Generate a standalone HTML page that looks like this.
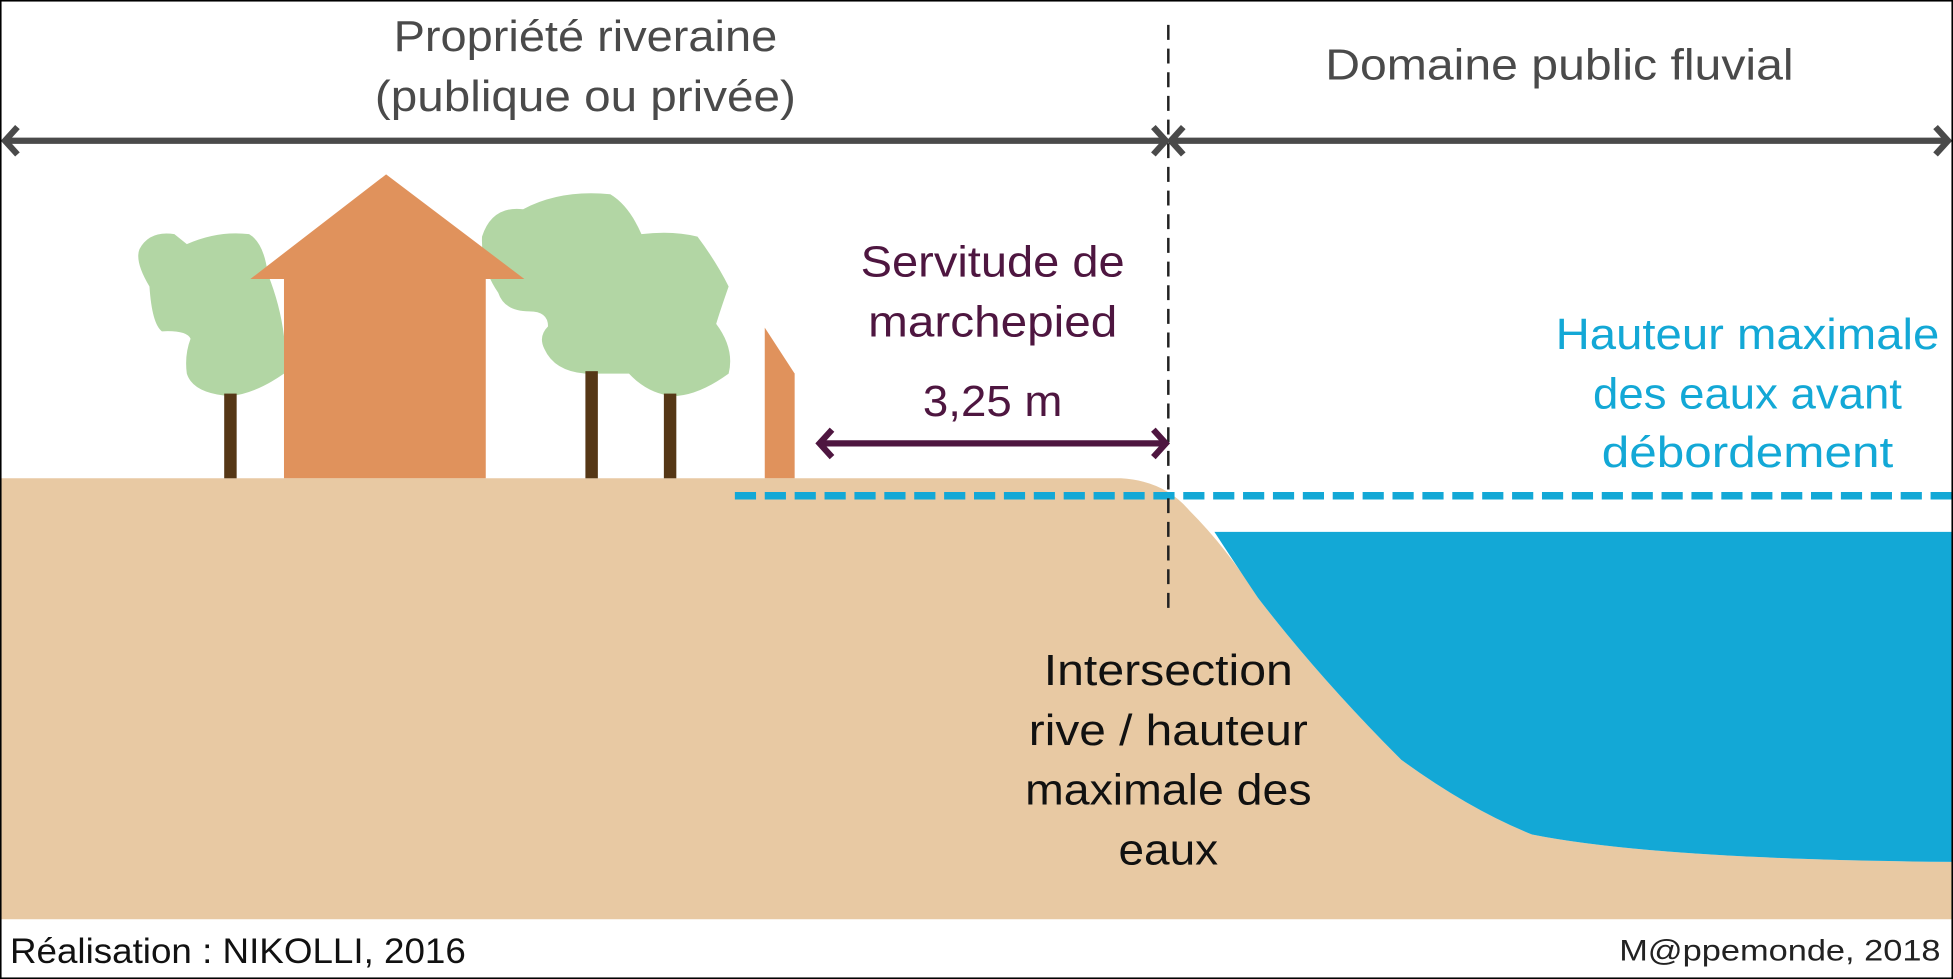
<!DOCTYPE html>
<html><head><meta charset="utf-8"><style>html,body{margin:0;padding:0;background:#fff}svg{display:block}</style></head>
<body>
<svg width="1953" height="979" viewBox="0 0 1568 786" preserveAspectRatio="none" xmlns="http://www.w3.org/2000/svg" font-family="Liberation Sans, sans-serif">
<rect x="0" y="0" width="1568" height="786" fill="#fff"/>
<!-- ground -->
<path d="M0 384 L900 384 Q935 386 955 410 Q985 440 1010 480 Q1060 545 1125 610 Q1180 650 1230 670 Q1330 690 1568 692 L1568 738 L0 738 Z" fill="#e8c9a3"/>
<!-- water -->
<path d="M975 427 L1568 427 L1568 692 Q1330 690 1230 670 Q1180 650 1125 610 Q1060 545 1010 480 Q990 450 975 427 Z" fill="#13a8d6"/>
<!-- cyan dashed -->
<line x1="590" y1="398" x2="1568" y2="398" stroke="#13a8d6" stroke-width="6" stroke-dasharray="17,7"/>
<!-- trees -->
<g fill="#b2d6a4">
<path d="M150 196 Q175 185 200 188 Q212 195 215 220 Q225 245 228 270 L228 300 Q205 316 185 318 Q155 316 150 300 Q148 285 153 272 Q150 265 130 266 Q122 260 120 230 Q108 210 112 200 Q120 185 140 188 Z"/>
<path d="M420 168 Q450 152 490 156 Q505 165 515 188 Q540 185 560 190 Q575 210 585 230 Q578 250 575 260 Q590 280 585 300 Q560 318 540 318 Q520 316 505 300 Q490 300 470 300 Q445 298 437 280 Q432 270 440 262 Q440 250 425 250 Q405 250 400 235 Q386 215 387 190 Q395 165 420 168 Z"/>
</g>
<g fill="#553716">
<rect x="180" y="316" width="10" height="68"/>
<rect x="470" y="298" width="10" height="86"/>
<rect x="533" y="316" width="10" height="68"/>
</g>
<!-- house -->
<path d="M310 140 L421 224 L390 224 L390 384 L228 384 L228 224 L201 224 Z" fill="#e0925c"/>
<path d="M614 263 L638 300 L638 384 L614 384 Z" fill="#e0925c"/>
<!-- top arrows -->
<g stroke="#4a4a4a" stroke-width="5" fill="none">
<line x1="4" y1="113" x2="934" y2="113"/>
<line x1="942" y1="113" x2="1564" y2="113"/>
<path d="M14 102 L4 113 L14 124"/>
<path d="M926 102 L936 113 L926 124"/>
<path d="M950 102 L940 113 L950 124"/>
<path d="M1554 102 L1564 113 L1554 124"/>
</g>
<!-- vertical dashed -->
<line x1="938" y1="20" x2="938" y2="492" stroke="#222" stroke-width="2" stroke-dasharray="12,7"/>
<!-- marchepied arrow -->
<g stroke="#4e1640" stroke-width="5" fill="none">
<line x1="660" y1="356" x2="934" y2="356"/>
<path d="M668 345 L658 356 L668 367"/>
<path d="M926 345 L936 356 L926 367"/>
</g>
<!-- texts -->
<g font-size="35" fill="#4a4a4a" text-anchor="middle">
<text x="470" y="41" textLength="308" lengthAdjust="spacingAndGlyphs">Propriété riveraine</text>
<text x="470" y="89" textLength="338" lengthAdjust="spacingAndGlyphs">(publique ou privée)</text>
<text x="1252" y="64" textLength="376" lengthAdjust="spacingAndGlyphs">Domaine public fluvial</text>
</g>
<g font-size="35" fill="#4e1640" text-anchor="middle">
<text x="797" y="222" textLength="212" lengthAdjust="spacingAndGlyphs">Servitude de</text>
<text x="797" y="270" textLength="200" lengthAdjust="spacingAndGlyphs">marchepied</text>
<text x="797" y="334" textLength="112" lengthAdjust="spacingAndGlyphs">3,25 m</text>
</g>
<g font-size="35" fill="#13a8d6" text-anchor="middle">
<text x="1403" y="280" textLength="308" lengthAdjust="spacingAndGlyphs">Hauteur maximale</text>
<text x="1403" y="328" textLength="248" lengthAdjust="spacingAndGlyphs">des eaux avant</text>
<text x="1403" y="375" textLength="234" lengthAdjust="spacingAndGlyphs">débordement</text>
</g>
<g font-size="35" fill="#111" text-anchor="middle">
<text x="938" y="550" textLength="200" lengthAdjust="spacingAndGlyphs">Intersection</text>
<text x="938" y="598" textLength="224" lengthAdjust="spacingAndGlyphs">rive / hauteur</text>
<text x="938" y="646" textLength="230" lengthAdjust="spacingAndGlyphs">maximale des</text>
<text x="938" y="694" textLength="80" lengthAdjust="spacingAndGlyphs">eaux</text>
</g>
<text x="8" y="773" font-size="28" fill="#111" textLength="366" lengthAdjust="spacingAndGlyphs">Réalisation : NIKOLLI, 2016</text>
<text x="1558" y="771" font-size="24" fill="#222" text-anchor="end" textLength="258" lengthAdjust="spacingAndGlyphs">M@ppemonde, 2018</text>
<rect x="0.5" y="0.5" width="1567" height="785" fill="none" stroke="#000" stroke-width="1.5"/>
</svg>
</body></html>
